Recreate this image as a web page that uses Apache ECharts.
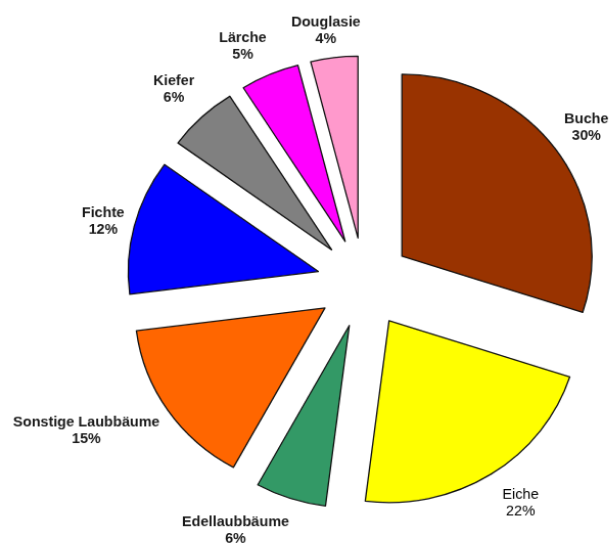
<!DOCTYPE html>
<html>
<head>
<meta charset="utf-8">
<script src="https://cdn.jsdelivr.net/npm/echarts@6/dist/echarts.min.js"></script>
<style>
  html, body { margin: 0; padding: 0; background: #fff; overflow: hidden; }
  #wrap { width: 609px; height: 544px; overflow: hidden; }
  /* slightly wider than tall, as in the printed figure */
  #chart { width: 609px; height: 560px; transform-origin: 0 0; transform: scale(1.022, 0.978); }
</style>
</head>
<body>
<div id="wrap"><div id="chart"></div></div>
<script>
// Baumartenanteile (Prozent)
const species = ['Buche', 'Eiche', 'Edellaubbäume', 'Sonstige Laubbäume', 'Fichte', 'Kiefer', 'Lärche', 'Douglasie'];
const shares = [30, 22, 6, 15, 12, 6, 5, 4];
const colors = ['#993300', '#FFFF00', '#339966', '#FF6600', '#0000FF', '#808080', '#FF00FF', '#FF99CC'];

// fine placement of each label relative to its radial spot (px)
const labelNudge = [[-2, 1], [10, -1], [-41, -9], [-13, -24], [5, 4], [-1, 0], [-12, 5], [-4, 5]];

const CENTER = [356, 289];
const RADIUS = 186;
const EXPLODE = 46;
const GAP = 12;

const total = shares.reduce((a, b) => a + b, 0);
const midAngles = [];
let acc = 0;
shares.forEach(v => {
  midAngles.push((acc + v / 2) / total * 2 * Math.PI);
  acc += v;
});

const chart = echarts.init(document.getElementById('chart'), null, { renderer: 'canvas' });

// One pie per slice: every pie carries the full data, but only its own
// slice is painted, and the pie is shifted outward along that slice's middle.
const series = species.map((_, k) => {
  const dx = Math.sin(midAngles[k]), dy = -Math.cos(midAngles[k]);
  const c = [CENTER[0] + dx * EXPLODE, CENTER[1] + dy * EXPLODE];
  return {
    type: 'pie',
    center: c,
    radius: [0, RADIUS],
    startAngle: 90,
    clockwise: true,
    silent: true,
    avoidLabelOverlap: false,
    emphasis: { disabled: true },
    label: {
      show: true,
      position: 'outside',
      formatter: p => p.name + '\n' + p.value + '%',
      fontFamily: 'Liberation Sans, Arial, sans-serif',
      fontSize: 14.2,
      fontWeight: 'bold',
      lineHeight: 17,
      color: '#1a1a1a'
    },
    labelLine: { show: false },
    labelLayout: params => {
      const w = params.labelRect.width / 2, h = params.labelRect.height / 2;
      const d = RADIUS + GAP + w * Math.abs(dx) + h * Math.abs(dy);
      return {
        x: c[0] + dx * d + labelNudge[k][0] / 1.022,
        y: c[1] + dy * d + labelNudge[k][1] / 0.978,
        align: 'center',
        verticalAlign: 'middle'
      };
    },
    data: species.map((name, i) => ({
      name: name,
      value: shares[i],
      itemStyle: i === k
        ? { color: colors[i], borderColor: '#111111', borderWidth: 1.3 }
        : { color: 'rgba(0,0,0,0)', borderWidth: 0 },
      label: i === k
        ? (name === 'Eiche' ? { show: true, fontWeight: 'normal', color: '#000000' } : { show: true })
        : { show: false }
    }))
  };
});

chart.setOption({
  animation: false,
  backgroundColor: '#ffffff',
  series: series
});
</script>
</body>
</html>
